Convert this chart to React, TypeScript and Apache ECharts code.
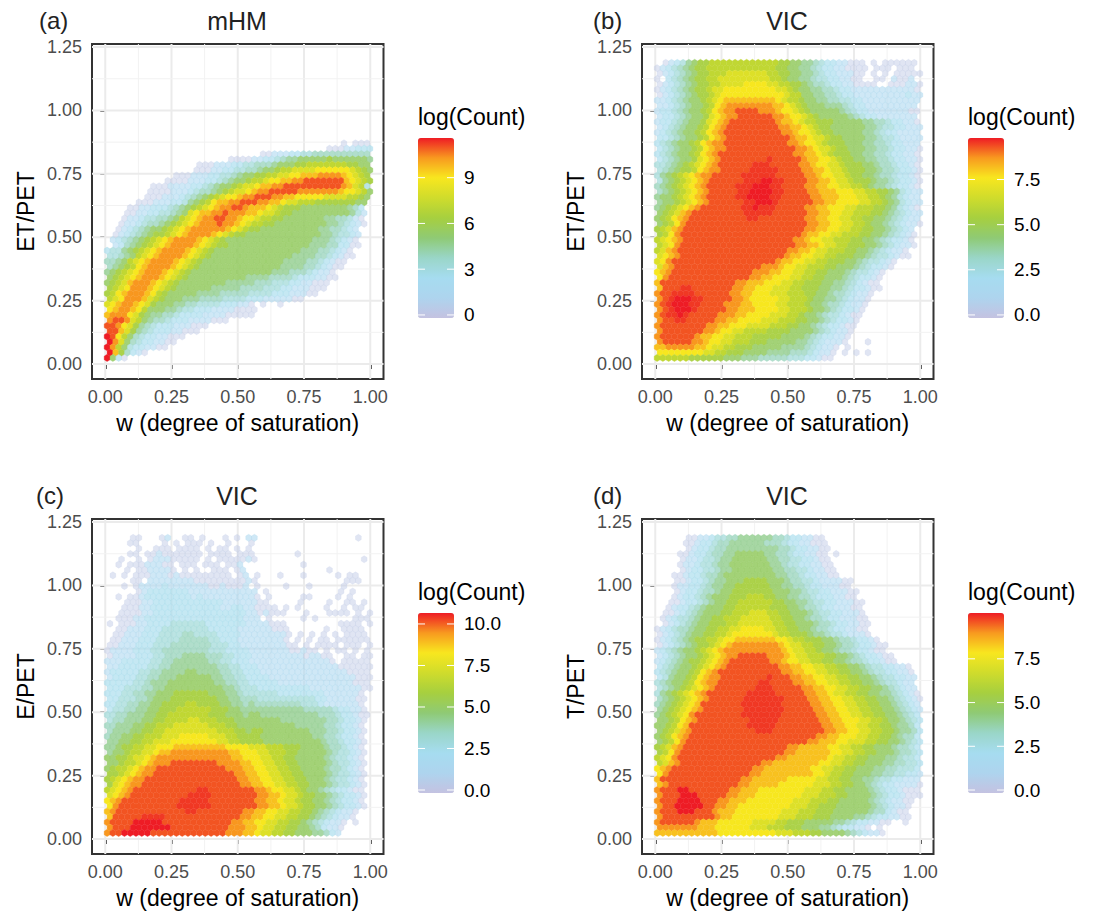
import React, { useEffect, useRef } from "react";
import * as echarts from "echarts";

const xTicks = [0, 0.25, 0.5, 0.75, 1];
const yTicks = [0, 0.25, 0.5, 0.75, 1, 1.25];
const xMinor = [0.125, 0.375, 0.625, 0.875];
const yMinor = [0.125, 0.375, 0.625, 0.875, 1.125];

// colour level -> share of the colour bar: 1..9, a..f, g (g lies just under f)
const levelFractions = [0.02, 0.14, 0.22, 0.28, 0.34, 0.4, 0.47, 0.55, 0.62, 0.7, 0.77, 0.83, 0.89, 0.95, 1, 0.975];

// hexbin cells: one string per hex row, top row first, bottom row last.
const rowsA = [
  "..... ..... ..... ..... ..... ..... ..... ..... .1.11 1",
  "..... ..... ..... ..... ..... ..... ..... ...11 12233 3",
  "..... ..... ..... ..... ..... ..112 22334 45555 55555 5",
  "..... ..... ..... ..... .1111 22334 56677 77787 77777 6",
  "..... ..... ..... .1112 22334 45556 77788 99999 99887 7",
  "..... ..... ..... 11122 33445 56778 99aaa abbbb bba98 7",
  "..... ..... ..111 22233 44567 78899 aabbc ccddd dcba9 8",
  "..... ..... 11112 22334 56778 99abb ccdde eeeee ecba9 8",
  "..... ...11 12222 33456 7789a abccd deeee eeeee edca9 4",
  "..... ..111 12223 45567 89aab cddee eeedd ddddd cbba9 7",
  "..... ..111 22234 56789 abbcd deeed dccbb bbbaa aa998 7",
  "..... 11122 23346 789bc cddee eddcc baa99 98888 88877 .",
  "....1 12233 34567 89abc ddeed cccba 98887 77777 77653 .",
  "...11 22334 4567a bccdd edddc cbaa9 88777 77777 77642 .",
  "...12 23445 5679a bcdde eddcb ba998 87777 77766 55421 .",
  "..122 34556 789ab cddde ddcba 99887 77777 77766 54321 .",
  "..123 45677 89abc ddddd dcba9 88777 77777 77665 5432. .",
  ".1234 56788 9abcd dddcb a9887 77777 77777 77665 4432. .",
  ".2345 6789a bcddd dcba9 87777 77777 77777 76665 4321. .",
  ".2356 789ab cdddd cba98 87777 77777 77777 66655 3311. .",
  "34467 89abc ddddc ba987 77777 77777 77776 66554 321.. .",
  "44567 9abcd dddcb a9877 77777 77777 77666 65543 211.. .",
  "55679 abcdd ddcba 98777 77777 77777 76666 55432 11... .",
  "56789 bcddd dcba9 87777 77777 77777 66665 54321 1.... .",
  "6789a bcddd cba98 77777 77777 77776 66555 43221 ..... .",
  "789ab cdddc ba987 77777 77776 66655 55433 32211 ..... .",
  "789ac dddcb a9877 77777 76666 65554 44332 2111. ..... .",
  "89abd ddcba 98777 77766 66655 55444 33222 111.. ..... .",
  "89bcd ddcb9 87777 76666 55555 44443 33222 11... ..... .",
  "9abdd dca98 77766 65555 44443 33222 2211. ..... ..... .",
  "abcdd cba87 77665 54444 33322 1.1.. 1.... ..... ..... .",
  "bcddc b9777 66544 33322 22111 1.... ..... ..... ..... .",
  "cdddb a8766 55433 33222 21111 1.... ..... ..... ..... .",
  "deeda 97655 43332 22211 1.... ..... ..... ..... ..... .",
  "eedba 86543 33222 111.. ..... ..... ..... ..... ..... .",
  "eeca8 65433 32211 1.... ..... ..... ..... ..... ..... .",
  "feb97 54332 2111. ..... ..... ..... ..... ..... ..... .",
  "fda75 43322 11... ..... ..... ..... ..... ..... ..... .",
  "fd974 33221 1.... ..... ..... ..... ..... ..... ..... .",
  "fc853 21... ..... ..... ..... ..... ..... ..... ..... .",
  "f731. ..... ..... ..... ..... ..... ..... ..... ..... .",
];

const rowsB = [
  ".1234 67889 99999 99999 98877 66543 32211 1.1.1 11111 .",
  "12345 67889 99999 99999 98877 66543 32211 11.11 1.111 .",
  "12345 67889 99aaa aaaa9 98877 66543 32221 1.1.1 .1111 1",
  "1.345 67889 9aaaa aaaaa 99877 66544 33221 1..11 .2112 .",
  "12345 67889 9aaaa bbbba a9988 76554 33221 111.. 11122 1",
  "12345 67889 aabbb bbbbb baa98 77665 54332 22222 22222 1",
  "12345 67889 abbbb bbbbb bba99 77665 54332 22222 22232 2",
  "22345 67789 abccc ccccc cba99 87766 55443 32222 22222 2",
  "22345 67789 bcddd ddddd ccba9 87776 66543 32222 22222 .",
  "23345 67789 bcdde eeedd dcbba 98777 77654 33222 22221 1",
  "23345 6778a bcdde eeeee ddcbb a9877 77765 43322 22222 .",
  "23345 6778a bcdee eeeee edccb a9988 87777 76655 43322 1",
  "23456 7789b cdeee eeeee eddcc ba988 77777 76654 43322 2",
  "23456 7789b cdeee eeeee eeddc bba98 87777 76654 33222 2",
  "33456 7789b cdeee eeeee eeedc cbaa9 88777 76654 43222 2",
  "34567 789bc ddeee eeeee eeedd cbba9 88877 76655 43322 2",
  "34567 789bc ddeee eeeee eeeed dcbaa 98877 76655 43322 1",
  "34567 789bc deeee eeeee eeeed dccba 98887 76655 43322 1",
  "34567 78abc deeee eeeeg eeeee dccbb a9887 76655 43322 1",
  "44567 89abc deeee eeggg eeeee ddcbb aa988 87765 54332 1",
  "45678 89bcd deeee egggg geeee ddccb aa988 87765 54332 1",
  "46789 abcdd eeeee ggggg geeee eddcb baa98 87765 54332 1",
  "46789 abcde eeeee gggff ggeee eddcc baa98 88766 54332 1",
  "56789 abcde eeeeg ggfff ggeee eddcc bbaa9 98766 54332 1",
  "56789 abcde eeeeg gffff ggeee eddcc cbbba a9988 76432 2",
  "67789 abcde eeeeg gffff ggeee eeddc ccbbb aa998 76432 2",
  "67789 abcde eeeee ggfff geeee eeddc cbbbb aa998 76432 2",
  "6789a bcdee eeeee ggfgg geeee eddcc bbbaa 99988 76432 1",
  "789ac deeee eeeee ggggg eeeee eddcc bbaa9 99887 65432 2",
  "789bc deeee eeeee eggee eeeee eddcc bbaa9 98877 65432 2",
  "789bd eeeee eeeee eeeee eeeee eddcc bbaa9 98776 54322 1",
  "89acd eeeee eeeee eeeee eeeee eddcc bbaa9 98877 65432 .",
  "89bde eeeee eeeee eeeee eeeee dccbb aa999 88776 54321 .",
  "9abcd eeeee eeeee eeeee eeeed dcbba a9998 87765 43321 .",
  "9abde eeeee eeeee eeeee eeeed dccba a9988 87765 43221 .",
  "9acde eeeee eeeee eeeee eeedd ccbaa 99988 77654 3221. .",
  "abcde eeeee eeeee eeeee eedcc bbaa9 98887 76544 3211. .",
  "abdee eeeee eeeee eeeee edccb baa99 88877 65443 21... .",
  "acdee eeeee eeeee eeedd dcbba a9998 87776 54332 1.... .",
  "bcdee eeeee eeeee eeddd ccbba a9988 77765 44321 ..... .",
  "bdeee eeeee eeeee eddcc bbbaa 99887 77654 3321. ..... .",
  "ceeee eeeee eeeed dcccb bbaa9 98887 76654 3211. ..... .",
  "ceeeg geeee eeedd ccbbb aaa99 88877 66543 3211. ..... .",
  "deegg ggeee eeedd ccbbb aaa99 98877 65543 221.. ..... .",
  "degff fggee eeedd cbbbb baa99 98776 65432 21... ..... .",
  "degff fggee eeddd ccbbb baa99 98776 55432 21... ..... .",
  "degff fgeee eeddc ccbbb baa99 98776 54332 1.... ..... .",
  "deggf geeee edddc cbbbb aaa99 87765 44321 1.... ..... .",
  "deegg eeeee ddccb bbbaa a9998 87765 43321 ..... ..... .",
  "deeee eeeed dccbb baaaa 99988 77654 33211 ..... ..... .",
  "deeee eeedd cbbaa 99998 88877 77654 3221. ..... ..... .",
  "deeee eedcc bbaa9 99888 88777 76543 3221. ..... ..... .",
  "deeee eddcb baa99 98887 77776 65432 221.. .1... ..... .",
  "ccddd ddccb aa998 88777 77666 65432 21.1. ..... ..... .",
  "bbbbb bbbaa 99888 77776 66655 54322 1.1.1 .1... ..... .",
  "99999 98888 88777 66655 55544 43321 1.... ..... ..... .",
];

const rowsC = [
  "....1 1...1 2..11 .1... 1.1.2 2.... ..... ..... ...1. .",
  "....1 1.... 1.1.1 11.1. .1... 1.... ..... ..... ..... .",
  "..... 1..11 1.111 1.1.1 1.1.1 ..... ..... ..... ..... .",
  "....1 1.112 11111 11.11 11.11 1.... ...1. ..... ..... .",
  "..1.. 1.122 21111 1.1.1 11112 1.... ..... ..... ....1 .",
  "..1.1 11222 11.11 1.111 .112. ..... ....1 ..... ..... .",
  "...1. 11222 21.1. 1..11 1.12. ..... ..... ...1. ..... .",
  ".1.1. 11122 21211 11111 11.12 .1... 1...1 ..... 1.11. .",
  "....1 1.222 22222 11111 11112 1.... ..... ..... .111. .",
  "...1. 12222 32222 22211 21112 .1... .1... 1.... .1... .",
  "..... 12333 33332 22222 22222 2.1.. ..... ..... 1.1.. .",
  "..1.1 12333 33333 23222 22222 21.1. ....1 1.... 1.1.. .",
  "...11 12233 33333 33333 22222 211.. ...1. ...1. .11.1 .",
  "...11 12233 33333 33333 22332 21111 .1.1. ...1. .1.11 .",
  "..111 12233 33333 33333 33332 21211 1...1 ...11 11.1. 1",
  "..111 22333 33333 33333 33332 22.1. ....1 .1... ...11 1",
  "1.111 22333 34444 44333 33332 22211 1.... ..... 1111. 1",
  "..112 22333 44444 44433 33322 22221 11... ...1. .1111 .",
  ".1122 23334 44455 44443 33322 22222 21.1. 1.1.1 .1111 .",
  ".1122 23334 44455 55544 33322 22222 21.1. 1.11. 11111 1",
  "11222 33344 45555 55544 43322 22222 211.1 .1111 .111. 1",
  "12222 33344 55555 55544 43333 22222 22112 11.1. 11.1. 1",
  "12222 33344 55566 66555 44333 22222 22221 2211. .11.1 1",
  "22233 33344 55666 66655 44333 22222 22222 22221 .1111 1",
  "22333 33445 56666 66665 54433 32222 22222 22222 11111 1",
  "23333 34455 66667 76666 55443 33222 22222 22222 22111 1",
  "23333 44556 66777 77766 55443 33322 22222 22222 22211 1",
  "33333 44566 67777 77776 65544 33333 22222 22222 22211 1",
  "33344 45566 77777 77777 66544 43333 33333 22222 22221 1",
  "33344 55667 77888 88877 76654 44444 33333 33322 22221 .",
  "33444 55677 78888 88887 76655 54444 44444 43322 22211 .",
  "33445 56677 88889 98888 77665 65555 55554 44322 22221 .",
  "34455 66778 88999 99988 87766 66666 66665 55554 33221 .",
  "44556 66778 89999 99988 87776 77666 66666 66555 43321 1",
  "45566 67788 9999a a9998 88777 77777 66666 66655 43321 .",
  "55666 77889 99aaa aaa99 98877 77777 77766 66655 43321 .",
  "56667 78899 aaaaa aaaa9 99887 88777 77777 66655 43321 .",
  "56677 88999 aaabb bbbaa a9988 88777 77777 76655 43321 .",
  "66778 899aa abbbb bbbba a9988 88777 77777 77655 43321 .",
  "66788 99aab bbccc ccccc cbbbb aaa99 98887 77765 54321 .",
  "67789 9aabc cdddd ddddd dccbb baa99 98877 77765 44321 .",
  "77889 aabcd ddddd ddddd ddccb bbaa9 98877 77765 44321 .",
  "77899 abcdd deeee eeeed dddcc bbaa9 98877 77765 44321 .",
  "7899a bcdde eeeee eeeee edddc cbbaa 99887 77765 54321 .",
  "889ab cddee eeeee eeeee eeddc cbbaa 99887 77765 44321 .",
  "89abc ddeee eeeee eeeee eeedd ccbba a9988 77765 44321 .",
  "8abcd deeee eeeee eeeee eeedd ccbba a9988 77765 44321 .",
  "9abcd eeeee eeeee eggee eeeee eddcb baa98 77654 33211 .",
  "abcde eeeee eeeeg gggee eeeee eddcc baa98 87765 43321 .",
  "bcdee eeeee eeegg gggee eeeee eddcc baa98 87765 43321 .",
  "bdeee eeeee eeggg gggee eeeee eddcc baa98 87765 43321 .",
  "cdeee eeeee eeeeg geeee eeeed dccbb aa998 87654 3221. .",
  "ceeee egggg eeeee eeeee eeedd ccbba a9988 76543 221.. .",
  "deeee fffff eeeee eeeee eeddc cbbaa 99887 65432 21.1. .",
  "deeef fffff feeee eeeee edddc cbaa9 98877 65322 1.... .",
  "deeff fffee eeeee eeeee edddc cbaa9 98877 76653 2.... .",
];

const rowsD = [
  "..... 11223 44556 66666 55433 2211. ..... ..... ..... .",
  "..... 11233 45566 66665 55433 22111 ..... ..... ..... .",
  "..... 12334 55666 66666 65543 32211 ..... ..... ..... .",
  "....1 12334 55667 77776 65543 32211 .1... ..... ..... .",
  "....1 22344 56677 77776 65544 33211 ..... ..... ..... .",
  "....1 22344 56677 77777 66544 33221 1.... ..... ..... .",
  "....1 23344 56677 77777 66554 43221 1.... ..... ..... .",
  "...11 23345 56777 77777 76655 43322 11... ..... ..... .",
  "...11 23345 66777 88887 77655 44322 2211. ..... ..... .",
  "...12 23345 66778 88888 77665 54332 2211. ..... ..... .",
  "...12 33455 67788 88888 77766 54433 22211 ..... ..... .",
  "...12 33456 77788 89998 87766 55433 32211 ..... ..... .",
  "..112 33456 77889 99999 88776 65443 32221 1.... ..... .",
  "..123 34567 77889 99999 88877 65543 32221 1.... ..... .",
  ".1123 45677 78899 9aaa9 98877 76544 33222 1.... ..... .",
  ".1234 45677 88999 aaaaa 99887 76554 33222 11... ..... .",
  ".1234 56778 8899a aaaaa 99887 77655 43322 11... ..... .",
  "12345 56778 899aa bbbba a9988 77655 43322 11... ..... .",
  "12345 67788 99abb bbbbb a9988 87665 44322 21... ..... .",
  "12345 67889 9abbc ccccc cbba9 98887 76554 3321. ..... .",
  "12345 67889 abcdd ddddd dcbaa 99887 76554 33211 ..... .",
  "23456 7789a bcddd ddddd ddcba a9987 76554 33211 ..... .",
  "23456 7789a bcdde eeeed ddcba a9998 87765 43321 1.... .",
  "23456 7889a bcdee eeeee ddcbb aa998 87765 54332 11... .",
  "34567 789ab cdeee eeeee eddcc bbaa9 98877 65443 3221. .",
  "34567 789bc deeee eeeee eeddc cbbaa 99887 76544 33221 .",
  "34677 89bcd deeee eeeeg eeedd ccbba a9988 77654 43322 .",
  "45677 89bcd deeee eeegg eeeed dccbb aa998 87765 44322 .",
  "45678 9abcd eeeee eeggg eeeee ddccb baa99 88776 54322 .",
  "46789 abcde eeeee egggg geeee eddcc baa99 88776 65432 1",
  "56789 abcde eeeee ggggg ggeee eddcc bbaa9 98877 65432 1",
  "56789 abcee eeeee ggggg ggeee eeddc cbbaa 99887 76543 2",
  "6789a bcdee eeeee ggggg ggeee eeddc cbbaa 99887 76543 2",
  "6789a bdeee eeeee ggggg ggeee eeedd ccbba a9988 77654 3",
  "7789b cdeee eeeee egggg geeee eeedd ccbbb aa998 77654 3",
  "7789b ceeee eeeee egggg geeee eeeed dccbb aa998 87665 3",
  "789ac deeee eeeee eeggg eeeee eeeed dccbb aa998 87665 3",
  "789bc deeee eeeee eeeee eeeee eeedd ccbbb aa998 87655 3",
  "789bd eeeee eeeee eeeee eeeee eddcc cbbaa a9988 77654 3",
  "89acd eeeee eeeee eeeee eeedd ccccc bbaa9 98877 76554 3",
  "89bde eeeee eeeee eeeee eeddc ccccc bbaa9 98877 76554 3",
  "9abde eeeee eeeee eeeee eddcc ccccc baa99 88777 66544 3",
  "9acde eeeee eeeee eeedd ccccc cccbb aa998 87776 65544 3",
  "bcdee eeeee eeeee eeddc ccccc ccbba a9988 77766 55444 3",
  "bdeee eeeee eeeee eddcc ccccc ccbba 99887 77665 54433 2",
  "ceeee eeeee eeeee ddccc cccbb bbbaa 99887 76654 43322 2",
  "cdeee eeeee eeeed dcccc cbbbb bbaaa 99887 76543 32222 1",
  "deeef feeee eeedd cccbb bbbbb baaa9 98877 77654 33211 1",
  "deeef ffeee eeddc ccbbb bbbbb aaa99 98877 77654 33211 1",
  "deeef fffee eddcc cbbbb bbbba aa999 88777 77654 32211 .",
  "deeff fffee ddccb bbbbb bbbaa a9988 87777 77654 3221. .",
  "deeef ffeee dcccb bbbbb bbaaa 99988 87777 77655 3211. .",
  "deeee eeeee dccbb bbbbb baaa9 99888 77776 65433 2211. .",
  "deeee eedcc cbbbb bbaaa a9988 87777 76654 33221 1..1. .",
  "ddddd ddccc bbbbb baaa9 99888 77766 54332 21.1. ..... .",
  "ccccc ccccc cbbbb bbbbb baaa9 99887 77765 43221 ..... .",
];

const palette = ["#c4c2e1", "#aed4ee", "#a6dcf0", "#9ad6c8", "#8fca75", "#a6cf3f", "#cfdc2c", "#f8e71f", "#f89a1f", "#ee1c25"];

const X0 = 0.007, Y0 = 0.024, DX = 0.0218, DY = 0.02116;
const XMIN = -0.05, XMAX = 1.05, YMIN = -0.059, YMAX = 1.262;

const panels = [
  { tag: "(a)", title: "mHM", yName: "ET/PET", rows: rowsA, min: -0.2, max: 11.6, legend: [0, 3, 6, 9], fmt: 0, col: 0, row: 0 },
  { tag: "(b)", title: "VIC", yName: "ET/PET", rows: rowsB, min: -0.17, max: 9.8, legend: [0, 2.5, 5, 7.5], fmt: 1, col: 1, row: 0 },
  { tag: "(c)", title: "VIC", yName: "E/PET", rows: rowsC, min: -0.18, max: 10.66, legend: [0, 2.5, 5, 7.5, 10], fmt: 1, col: 0, row: 1 },
  { tag: "(d)", title: "VIC", yName: "T/PET", rows: rowsD, min: -0.17, max: 10.12, legend: [0, 2.5, 5, 7.5], fmt: 1, col: 1, row: 1 },
];

function decode(rows: string[], max: number) {
  const out: number[][] = [];
  rows.forEach((r, idx) => {
    const j = rows.length - 1 - idx;
    const cells = r.replace(/ /g, "");
    for (let i = 0; i < cells.length; i++) {
      const c = cells[i];
      if (c === ".") continue;
      const lvl = parseInt(c, 36);
      const f = levelFractions[lvl - 1];
      out.push([X0 + DX * (i + (j % 2 ? 0.5 : 0)), Y0 + DY * j, f * max, f]);
    }
  });
  return out;
}

const FONT = '"Liberation Sans", Arial, sans-serif';

export default function App() {
  const ref = useRef<HTMLDivElement>(null);
  useEffect(() => {
    document.body.style.margin = "0";
    const chart = echarts.init(ref.current!, undefined, { renderer: "svg" });
    const grids: any[] = [], xAxes: any[] = [], yAxes: any[] = [], series: any[] = [], visualMaps: any[] = [], titles: any[] = [], graphics: any[] = [];
    panels.forEach((p, k) => {
      const ox = p.col * 550, oy = p.row * 475;
      grids.push({ left: 92 + ox, top: 44 + oy, width: 291.5, height: 335, show: true, borderColor: "#333333", borderWidth: 2, backgroundColor: "#fff" });
      xAxes.push({
        gridIndex: k, type: "value", min: XMIN, max: XMAX,
        name: "w (degree of saturation)", nameLocation: "middle", nameGap: 32,
        nameTextStyle: { fontFamily: FONT, fontSize: 23, color: "#000" },
        axisLine: { show: false }, splitLine: { show: false },
        axisTick: { show: true, customValues: xTicks, length: 5, lineStyle: { color: "#333", width: 2 } },
        axisLabel: { customValues: xTicks, color: "#4d4d4d", fontFamily: FONT, fontSize: 18, margin: 9, formatter: (v: number) => v.toFixed(2) },
      });
      yAxes.push({
        gridIndex: k, type: "value", min: YMIN, max: YMAX,
        name: p.yName, nameLocation: "middle", nameGap: 55,
        nameTextStyle: { fontFamily: FONT, fontSize: 23, color: "#000" },
        axisLine: { show: false }, splitLine: { show: false },
        axisTick: { show: true, customValues: yTicks, length: 5, lineStyle: { color: "#333", width: 2 } },
        axisLabel: { customValues: yTicks, color: "#4d4d4d", fontFamily: FONT, fontSize: 18, margin: 10, formatter: (v: number) => v.toFixed(2) },
      });
      const lines: any[] = [];
      xTicks.forEach((v) => lines.push([v, 0, 2]));
      xMinor.forEach((v) => lines.push([v, 0, 1]));
      yTicks.forEach((v) => lines.push([v, 1, 2]));
      yMinor.forEach((v) => lines.push([v, 1, 1]));
      series.push({
        type: "custom", xAxisIndex: k, yAxisIndex: k, silent: true, z: 1, clip: true,
        data: lines, encode: { x: 0 },
        renderItem: (_: any, api: any) => {
          const v = api.value(0), vert = api.value(1) === 0, w = api.value(2);
          const a = vert ? api.coord([v, YMIN]) : api.coord([XMIN, v]);
          const b = vert ? api.coord([v, YMAX]) : api.coord([XMAX, v]);
          return {
            type: "line", shape: { x1: a[0], y1: a[1], x2: b[0], y2: b[1] },
            style: { stroke: w === 2 ? "#ebebeb" : "#f2f2f2", lineWidth: w === 2 ? 2 : 1 },
          };
        },
      });
      const hexIndex = series.length;
      series.push({
        type: "custom", xAxisIndex: k, yAxisIndex: k, silent: true, z: 2,
        data: decode(p.rows, p.max), encode: { x: 0, y: 1 },
        renderItem: (_: any, api: any) => {
          const c = api.coord([api.value(0), api.value(1)]);
          const s = api.size([DX, DY]);
          const hw = s[0] / 2, h = (s[1] * 2) / 3;
          const col = api.visual("color");
          return {
            type: "polygon",
            shape: { points: [[c[0], c[1] - h], [c[0] + hw, c[1] - h / 2], [c[0] + hw, c[1] + h / 2], [c[0], c[1] + h], [c[0] - hw, c[1] + h / 2], [c[0] - hw, c[1] - h / 2]] },
            style: { fill: col, stroke: col, lineWidth: 0.4, opacity: Math.min(1, 0.45 + api.value(3) * 0.9) },
          };
        },
      });
      const barX = 418 + ox, barTop = 138 + oy, barH = 180;
      visualMaps.push({
        type: "continuous", seriesIndex: hexIndex, dimension: 2, min: p.min, max: p.max, calculable: false, hoverLink: false,
        left: barX, top: barTop, itemWidth: 36, itemHeight: barH, text: ["", ""], showLabel: false, padding: 0,
        inRange: { color: palette },
      });
      titles.push({ text: p.title, left: 237 + ox, top: 8 + oy, textAlign: "center", textStyle: { fontFamily: FONT, fontSize: 25, fontWeight: "normal", color: "#222" }, padding: 0 });
      titles.push({ text: p.tag, left: 39 + (p.col ? 554 : 0) - (p.row && !p.col ? 3 : 0), top: 8 + oy, textStyle: { fontFamily: FONT, fontSize: 24, fontWeight: "normal", color: "#222" }, padding: 0 });
      graphics.push({ type: "text", x: barX, y: 117 + oy, style: { text: "log(Count)", font: `23px ${FONT}`, fill: "#000", verticalAlign: "middle" } });
      p.legend.forEach((v) => {
        const y = barTop + barH - ((v - p.min) / (p.max - p.min)) * barH;
        graphics.push({ type: "line", z: 20, shape: { x1: barX, y1: y, x2: barX + 7, y2: y }, style: { stroke: "#fff", lineWidth: 1 } });
        graphics.push({ type: "line", z: 20, shape: { x1: barX + 29, y1: y, x2: barX + 36, y2: y }, style: { stroke: "#fff", lineWidth: 1 } });
        graphics.push({ type: "text", x: barX + 46, y, style: { text: v.toFixed(p.fmt), font: `19px ${FONT}`, fill: "#000", verticalAlign: "middle" } });
      });
    });
    chart.setOption({
      animation: false, backgroundColor: "#fff",
      title: titles, grid: grids, xAxis: xAxes, yAxis: yAxes, series, visualMap: visualMaps, graphic: graphics,
    });
    return () => chart.dispose();
  }, []);
  return <div ref={ref} style={{ width: 1093, height: 913 }} />;
}
